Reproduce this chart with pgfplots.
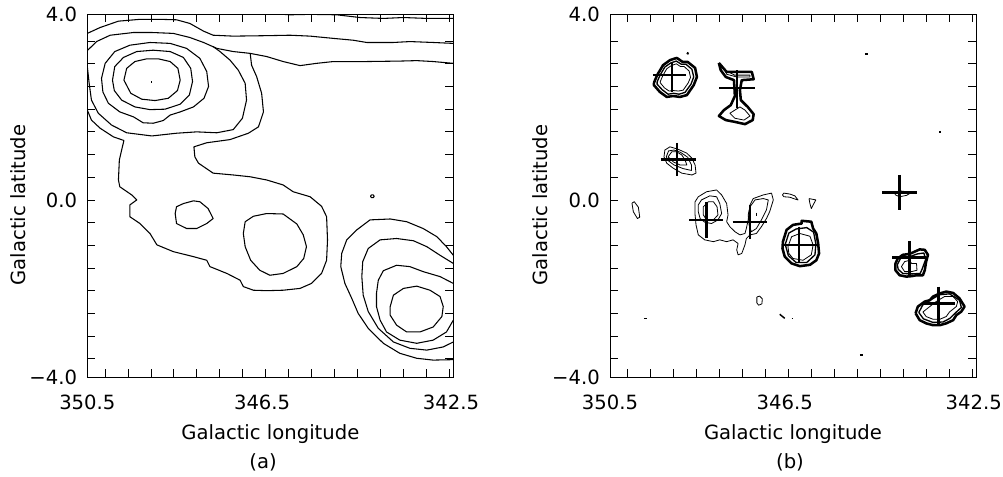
\documentclass[border=0pt]{standalone}
\usepackage{fontspec}
\setmainfont{DejaVu Sans}
\usepackage{pgfplots}
\pgfplotsset{compat=1.18}
\newcommand{\tlfont}{\fontsize{14.7pt}{17pt}\selectfont}
\pgfplotsset{
 common/.style={
  anchor=south west, scale only axis, width=274.5pt, height=272.25pt,
  xmin=342.5, xmax=350.5, x dir=reverse, ymin=-4, ymax=4,
  xtick={350.5,346.68,342.55}, xticklabels={350.5,346.5,342.5},
  ytick={-4,-0.09,4}, yticklabels={−4.0,0.0,4.0},
  minor xtick={350.113,349.611,349.110,348.608,348.107,347.605,347.103,346.602,346.100,345.599,345.097,344.595,344.094,343.592,343.091,342.589},
  minor ytick={3.41,2.91,2.41,1.91,1.41,0.91,0.41,-0.09,-0.59,-1.09,-1.59,-2.09,-2.59,-3.09,-3.59},
  major tick length=0pt, minor tick length=6pt,
  tick align=inside, xtick pos=both, ytick pos=both,
  xticklabel pos=lower, yticklabel pos=left,
  tick style={black, line width=0.6pt},
  axis line style={line width=0.6pt},
  xticklabel style={anchor=base, inner sep=0pt, yshift=-24.3pt, font=\tlfont},
  yticklabel style={anchor=east, inner sep=0pt, xshift=-7.5pt, font=\tlfont},
  xlabel={Galactic longitude}, ylabel={Galactic latitude},
  every axis x label/.style={at={(axis description cs:0.5,-0.1726)}, anchor=base, font=\tlfont},
  every axis y label/.style={at={(axis description cs:-0.1701,0.4747)}, rotate=90, anchor=base, font=\tlfont},
 },
 cont/.style={black, line width=0.8pt, line join=round, mark=none},
 thin/.style={black, line width=0.6pt, line join=round, mark=none},
 thk/.style={black, line width=1.9pt, line join=round, mark=none},
 mid/.style={black, line width=1.0pt, line join=round, mark=none},
 crs/.style={black, line width=1.8pt, mark=none},
}
\begin{document}
\begin{tikzpicture}
\path[use as bounding box] (-65.5pt,-74pt) rectangle (686.75pt,283pt);
% ---------------- panel (a)
\begin{axis}[common, at={(0pt,0pt)}]
\addplot[cont] coordinates {(346.22,4.00) (346.07,3.99) (345.63,4.00) (345.05,3.99) (344.54,3.93) (344.03,3.91) (343.59,3.93) (343.08,3.91) (342.50,3.91)};
\addplot[cont] coordinates {(350.50,3.58) (350.22,3.71) (349.82,3.85) (349.35,3.89) (348.91,3.89) (348.55,3.88) (348.26,3.80) (347.96,3.63) (347.75,3.54) (347.31,3.52) (346.58,3.53) (346.07,3.54) (345.63,3.52) (345.12,3.47) (344.69,3.43) (344.39,3.38) (343.81,3.38) (343.45,3.40) (342.94,3.38) (342.50,3.36)};
\addplot[cont] coordinates {(350.50,3.20) (350.30,3.40) (350.00,3.54) (349.49,3.60) (349.09,3.60) (348.62,3.58) (348.26,3.49) (347.96,3.38) (347.67,3.25) (347.31,3.18) (346.94,3.14) (346.58,3.07) (346.22,2.96) (345.85,2.87) (345.49,2.92) (345.12,2.96) (344.39,2.96) (343.67,2.97) (343.30,2.98) (342.94,2.96) (342.50,2.92)};
\addplot[cont] coordinates {(349.70,2.55) (349.64,2.81) (349.46,2.96) (349.20,3.02) (348.95,3.02) (348.69,2.96) (348.52,2.81) (348.47,2.55) (348.53,2.32) (348.73,2.15) (349.02,2.10) (349.31,2.13) (349.55,2.26) (349.70,2.55)};
\addplot[cont] coordinates {(349.95,2.55) (349.90,2.85) (349.71,3.05) (349.42,3.18) (349.06,3.21) (348.69,3.18) (348.40,3.05) (348.24,2.81) (348.20,2.52) (348.27,2.22) (348.47,2.02) (348.80,1.91) (349.13,1.90) (349.46,1.96) (349.75,2.11) (349.91,2.32) (349.95,2.55)};
\addplot[cont] coordinates {(350.19,2.59) (350.11,2.92) (349.90,3.18) (349.57,3.32) (349.13,3.38) (348.69,3.36) (348.33,3.25) (348.04,3.03) (347.89,2.74) (347.85,2.41) (347.95,2.15) (348.18,1.96) (348.47,1.85) (348.69,1.78) (348.84,1.66) (349.06,1.60) (349.28,1.61) (349.49,1.74) (349.79,1.85) (350.04,2.04) (350.16,2.29) (350.19,2.59)};
\addplot[cont] coordinates {(350.50,2.85) (350.46,2.48) (350.41,2.11) (350.26,1.82) (349.97,1.56) (349.64,1.39) (349.09,1.32) (348.55,1.38) (348.11,1.41) (347.67,1.39) (347.31,1.46) (347.11,1.71) (347.02,2.11) (347.05,2.48) (347.20,2.77) (347.38,2.99) (347.60,3.18) (347.75,3.29)};
\addplot[cont] coordinates {(350.50,1.89) (350.41,1.67) (350.22,1.49) (349.93,1.30) (349.70,1.22) (349.75,1.01) (349.80,0.79) (349.82,0.35) (349.79,0.20) (349.53,0.02) (349.42,-0.09) (349.57,-0.20) (349.57,-0.46) (349.35,-0.61) (349.13,-0.83) (348.98,-1.08) (348.62,-1.23) (348.18,-1.34) (347.89,-1.42) (347.82,-1.56) (347.45,-1.71) (347.16,-1.86) (347.09,-2.00) (346.87,-2.08) (346.58,-2.09) (346.22,-2.08) (345.85,-2.04) (345.60,-1.93) (345.38,-1.71) (345.27,-1.42) (345.25,-0.97) (345.27,-0.46) (345.38,-0.23) (345.63,-0.02) (346.00,0.09) (346.22,0.24) (346.58,0.35) (346.94,0.42) (347.31,0.46) (347.75,0.50) (348.07,0.72) (348.15,0.86) (348.17,1.08) (347.89,1.17) (347.38,1.24) (346.98,1.38) (346.76,1.52) (346.65,1.85) (346.69,2.26) (346.80,2.63) (346.91,2.88) (346.94,3.14)};
\addplot[cont] coordinates {(348.58,-0.39) (348.55,-0.24) (348.40,-0.17) (348.18,-0.11) (348.04,-0.13) (347.86,-0.28) (347.75,-0.50) (347.89,-0.61) (348.11,-0.72) (348.33,-0.72) (348.55,-0.61) (348.58,-0.39)};
\addplot[cont] coordinates {(347.05,-0.57) (346.87,-0.45) (346.58,-0.39) (346.22,-0.40) (345.92,-0.62) (345.78,-0.86) (345.71,-1.12) (345.77,-1.38) (345.92,-1.56) (346.22,-1.71) (346.51,-1.75) (346.73,-1.64) (346.93,-1.42) (347.05,-1.12) (347.09,-0.83) (347.05,-0.57)};
\addplot[cont] coordinates {(343.88,-2.44) (343.81,-2.19) (343.59,-2.04) (343.30,-1.99) (343.01,-2.08) (342.79,-2.22) (342.72,-2.44) (342.75,-2.66) (342.94,-2.89) (343.23,-3.00) (343.52,-3.00) (343.74,-2.85) (343.88,-2.63) (343.88,-2.44)};
\addplot[cont] coordinates {(342.50,-1.93) (342.79,-1.78) (343.16,-1.67) (343.45,-1.56) (343.74,-1.53) (344.03,-1.65) (344.14,-1.86) (344.18,-2.15) (344.18,-2.44) (344.10,-2.74) (343.96,-3.00) (343.67,-3.18) (343.30,-3.25) (342.94,-3.18) (342.65,-3.00) (342.50,-2.74)};
\addplot[cont] coordinates {(342.50,-1.49) (342.79,-1.31) (343.08,-1.12) (343.37,-0.99) (343.74,-0.94) (344.10,-0.97) (344.36,-1.16) (344.48,-1.45) (344.50,-1.78) (344.47,-2.19) (344.36,-2.55) (344.14,-2.92) (343.81,-3.22) (343.45,-3.36) (343.08,-3.40) (342.72,-3.33) (342.50,-3.22)};
\addplot[cont] coordinates {(342.50,-1.31) (342.65,-1.12) (342.86,-0.90) (343.16,-0.72) (343.52,-0.57) (343.88,-0.51) (344.32,-0.53) (344.61,-0.75) (344.83,-0.97) (344.94,-1.27) (344.96,-1.56) (344.87,-1.93) (344.72,-2.26) (344.58,-2.59) (344.36,-2.92) (344.03,-3.25) (343.67,-3.47) (343.30,-3.58) (342.94,-3.62) (342.50,-3.61)};
\addplot[cont] coordinates {(344.31,-0.01) (344.29,0.02) (344.25,0.02) (344.23,-0.01) (344.25,-0.04) (344.29,-0.04) (344.31,-0.01)};
\addplot[black, line width=1pt] coordinates {(349.10,2.51) (349.08,2.51)};
\end{axis}
% ---------------- panel (b)
\begin{axis}[common, at={(392pt,0pt)}]
% crosses
\addplot[crs] coordinates {(349.55,2.66) (348.83,2.66)};
\addplot[crs] coordinates {(349.15,2.92) (349.15,2.29)};
\addplot[crs] coordinates {(348.11,2.38) (347.33,2.38)};
\addplot[crs] coordinates {(347.73,2.77) (347.73,1.93)};
\addplot[crs] coordinates {(349.39,0.80) (348.62,0.80)};
\addplot[crs] coordinates {(349.03,1.17) (349.03,0.44)};
\addplot[crs] coordinates {(348.77,-0.53) (348.03,-0.53)};
\addplot[crs] coordinates {(348.39,-0.13) (348.39,-0.94)};
\addplot[crs] coordinates {(347.82,-0.57) (347.07,-0.57)};
\addplot[crs] coordinates {(347.44,-0.20) (347.44,-0.96)};
\addplot[crs] coordinates {(346.73,-1.08) (345.95,-1.08)};
\addplot[crs] coordinates {(346.37,-0.68) (346.37,-1.49)};
\addplot[crs] coordinates {(344.55,0.07) (343.79,0.07)};
\addplot[crs] coordinates {(344.17,0.46) (344.17,-0.31)};
\addplot[crs] coordinates {(344.33,-1.36) (343.60,-1.36)};
\addplot[crs] coordinates {(343.95,-0.99) (343.95,-1.77)};
\addplot[crs] coordinates {(343.69,-2.37) (342.95,-2.37)};
\addplot[crs] coordinates {(343.32,-2.00) (343.32,-2.85)};
% blob 1
\addplot[thk] coordinates {(349.54,2.49) (349.47,2.66) (349.34,2.88) (349.19,2.99) (349.04,3.04) (348.91,2.95) (348.80,2.95) (348.64,2.82) (348.60,2.62) (348.67,2.44) (348.82,2.22) (348.97,2.18) (349.12,2.20) (349.26,2.18) (349.41,2.29) (349.54,2.44) (349.54,2.49)};
\addplot[mid] coordinates {(349.47,2.51) (349.41,2.65) (349.30,2.84) (349.17,2.93) (349.05,2.97) (348.94,2.90) (348.84,2.90) (348.71,2.79) (348.67,2.62) (348.73,2.46) (348.86,2.28) (348.99,2.24) (349.11,2.26) (349.23,2.24) (349.36,2.34) (349.47,2.46) (349.47,2.51)};
\addplot[thin] coordinates {(349.40,2.52) (349.35,2.64) (349.26,2.80) (349.16,2.87) (349.05,2.91) (348.96,2.85) (348.88,2.85) (348.77,2.75) (348.74,2.61) (348.79,2.49) (348.90,2.33) (349.00,2.31) (349.11,2.32) (349.21,2.31) (349.31,2.38) (349.40,2.49) (349.40,2.52)};
\addplot[black, line width=1.6pt] coordinates {(348.82,3.15) (348.78,3.13)};
% blob 2
\addplot[thk] coordinates {(348.12,2.93) (347.95,2.73) (347.77,2.73) (347.40,2.73) (347.36,2.57) (347.62,2.55) (347.66,2.33) (347.64,2.11) (347.49,1.96) (347.36,1.80) (347.38,1.67) (347.55,1.58) (347.77,1.63) (347.97,1.67) (348.12,1.76) (348.01,1.89) (347.86,2.00) (347.77,2.20) (347.79,2.55) (347.97,2.62) (348.08,2.77) (348.12,2.93)};
\addplot[thin] coordinates {(347.99,2.77) (347.77,2.66) (347.44,2.66) (347.44,2.62) (347.73,2.62) (347.95,2.68) (347.99,2.77)};
\addplot[thin] coordinates {(347.88,1.82) (347.66,1.96) (347.55,1.89) (347.44,1.76) (347.57,1.67) (347.77,1.71) (347.88,1.82)};
% blob 3
\addplot[thin] coordinates {(349.32,0.86) (349.30,1.01) (349.19,1.08) (349.02,1.03) (348.82,0.94) (348.71,0.83) (348.64,0.68) (348.62,0.50) (348.71,0.46) (348.93,0.50) (349.12,0.61) (349.26,0.72) (349.32,0.86)};
\addplot[thin] coordinates {(349.27,0.86) (349.22,0.99) (349.10,1.01) (348.96,0.96) (348.80,0.85) (348.72,0.68) (348.72,0.56) (348.90,0.60) (349.10,0.68) (349.22,0.77) (349.27,0.86)};
\addplot[thin] coordinates {(349.23,0.86) (349.15,0.97) (349.04,0.97) (348.93,0.90) (348.86,0.79) (348.82,0.68) (348.97,0.68) (349.12,0.75) (349.23,0.86)};
% blob 4 + 5
\addplot[thin] coordinates {(348.64,-0.13) (348.57,-0.02) (348.39,0.09) (348.17,0.13) (348.06,0.02) (347.95,-0.17) (347.92,-0.42) (347.95,-0.57) (347.88,-0.68) (347.77,-0.79) (347.66,-0.86) (347.55,-0.83) (347.52,-0.72) (347.48,-0.53) (347.44,-0.20) (347.37,-0.06) (347.15,0.02) (346.97,0.06) (346.93,-0.09) (347.01,-0.35) (347.08,-0.50) (347.19,-0.68) (347.30,-0.83) (347.44,-0.86) (347.52,-0.94) (347.55,-1.08) (347.62,-1.27) (347.70,-1.30) (347.73,-1.19) (347.70,-1.05) (347.81,-0.97) (347.95,-1.01) (348.10,-0.97) (348.24,-1.01) (348.43,-0.97) (348.57,-0.86) (348.62,-0.64) (348.64,-0.42) (348.64,-0.13)};
\addplot[thin] coordinates {(348.57,-0.20) (348.50,-0.09) (348.32,0.00) (348.17,-0.02) (348.10,-0.17) (348.06,-0.39) (348.14,-0.53) (348.28,-0.61) (348.43,-0.58) (348.53,-0.50) (348.57,-0.35) (348.57,-0.20)};
\addplot[thin] coordinates {(348.46,-0.24) (348.35,-0.13) (348.24,-0.13) (348.16,-0.24) (348.14,-0.42) (348.24,-0.53) (348.39,-0.53) (348.46,-0.42) (348.46,-0.24)};
\addplot[thin] coordinates {(347.44,-0.24) (347.33,-0.09) (347.15,-0.06) (347.04,-0.09) (347.08,-0.31) (347.19,-0.53) (347.30,-0.72) (347.41,-0.79) (347.46,-0.64) (347.48,-0.42) (347.44,-0.24)};
\addplot[black, line width=1.2pt] coordinates {(347.30,-0.37) (347.30,-0.45)};
% blob 6
\addplot[thk] coordinates {(346.72,-1.01) (346.64,-0.75) (346.50,-0.64) (346.31,-0.61) (346.31,-0.55) (346.10,-0.57) (346.06,-0.72) (345.99,-0.83) (345.95,-1.05) (345.93,-1.27) (345.99,-1.42) (346.13,-1.52) (346.35,-1.55) (346.53,-1.49) (346.68,-1.34) (346.73,-1.16) (346.72,-1.01)};
\addplot[mid] coordinates {(346.67,-1.07) (346.59,-0.82) (346.43,-0.73) (346.20,-0.70) (346.05,-0.80) (346.00,-1.06) (346.02,-1.30) (346.20,-1.47) (346.43,-1.47) (346.60,-1.32) (346.67,-1.07)};
\addplot[thin] coordinates {(346.61,-1.12) (346.53,-0.90) (346.35,-0.83) (346.13,-0.89) (346.06,-1.08) (346.10,-1.30) (346.28,-1.42) (346.50,-1.38) (346.59,-1.27) (346.61,-1.12)};
\addplot[thin] coordinates {(346.73,0.02) (346.70,0.06) (346.57,0.04) (346.46,0.00) (346.39,-0.09) (346.46,-0.07) (346.57,-0.03) (346.70,-0.02) (346.73,0.02)};
\addplot[thin] coordinates {(346.15,-0.06) (346.00,-0.09) (346.06,-0.20) (346.10,-0.28) (346.13,-0.17) (346.15,-0.06)};
% blob 7
\addplot[thin] coordinates {(344.28,0.07) (344.17,0.11) (344.02,0.09) (343.95,0.05) (344.02,0.01) (344.17,-0.02) (344.26,0.02) (344.28,0.07)};
% blob 8
\addplot[thk] coordinates {(344.26,-1.49) (344.21,-1.38) (344.10,-1.30) (343.95,-1.28) (343.84,-1.23) (343.73,-1.18) (343.62,-1.19) (343.55,-1.30) (343.59,-1.45) (343.62,-1.64) (343.66,-1.75) (343.80,-1.75) (343.91,-1.77) (344.02,-1.78) (344.17,-1.75) (344.26,-1.64) (344.26,-1.49)};
\addplot[mid] coordinates {(344.22,-1.52) (344.14,-1.36) (343.95,-1.34) (343.78,-1.28) (343.64,-1.26) (343.60,-1.40) (343.68,-1.62) (343.72,-1.71) (343.90,-1.72) (344.10,-1.71) (344.20,-1.62) (344.22,-1.52)};
\addplot[thin] coordinates {(344.13,-1.56) (344.06,-1.45) (343.95,-1.42) (343.91,-1.49) (343.80,-1.49) (343.79,-1.64) (343.91,-1.67) (344.06,-1.67) (344.13,-1.56)};
% blob 9
\addplot[thk] coordinates {(343.82,-2.59) (343.77,-2.44) (343.62,-2.33) (343.51,-2.30) (343.44,-2.22) (343.29,-2.15) (343.15,-2.11) (343.00,-2.14) (342.86,-2.26) (342.75,-2.44) (342.82,-2.55) (342.93,-2.63) (343.00,-2.74) (343.15,-2.81) (343.29,-2.85) (343.44,-2.85) (343.59,-2.81) (343.73,-2.74) (343.82,-2.59)};
\addplot[mid] coordinates {(343.75,-2.57) (343.66,-2.40) (343.50,-2.30) (343.30,-2.18) (343.08,-2.16) (342.86,-2.30) (342.82,-2.46) (342.95,-2.58) (343.07,-2.70) (343.22,-2.78) (343.44,-2.79) (343.65,-2.71) (343.75,-2.57)};
\addplot[thin] coordinates {(343.66,-2.56) (343.51,-2.44) (343.37,-2.33) (343.19,-2.22) (343.00,-2.22) (342.90,-2.33) (342.93,-2.44) (343.08,-2.56) (343.15,-2.66) (343.29,-2.72) (343.44,-2.72) (343.59,-2.66) (343.66,-2.56)};
% isolated bits
\addplot[thin] coordinates {(350.02,-0.16) (349.97,-0.13) (349.88,-0.25) (349.85,-0.47) (349.90,-0.50) (349.99,-0.35) (350.02,-0.16)};
\addplot[thin] coordinates {(347.29,-2.23) (347.23,-2.21) (347.17,-2.27) (347.18,-2.38) (347.25,-2.41) (347.29,-2.36) (347.29,-2.23)};
\addplot[black, line width=1.3pt] coordinates {(344.93,3.12) (344.85,3.12)};
\addplot[black, line width=1.3pt] coordinates {(343.29,1.43) (343.29,1.39)};
\addplot[black, line width=1.1pt] coordinates {(349.76,-2.70) (349.69,-2.70)};
\addplot[black, line width=1.1pt] coordinates {(346.79,-2.61) (346.68,-2.70)};
\addplot[black, line width=1.1pt] coordinates {(346.53,-2.70) (346.49,-2.70)};
\addplot[black, line width=1.1pt] coordinates {(345.04,-3.51) (344.98,-3.51)};
\end{axis}
\node[anchor=base, font=\tlfont] at (131.8pt,-68pt) {(a)};
\node[anchor=base, font=\tlfont] at (527pt,-68pt) {(b)};
\end{tikzpicture}
\end{document}
